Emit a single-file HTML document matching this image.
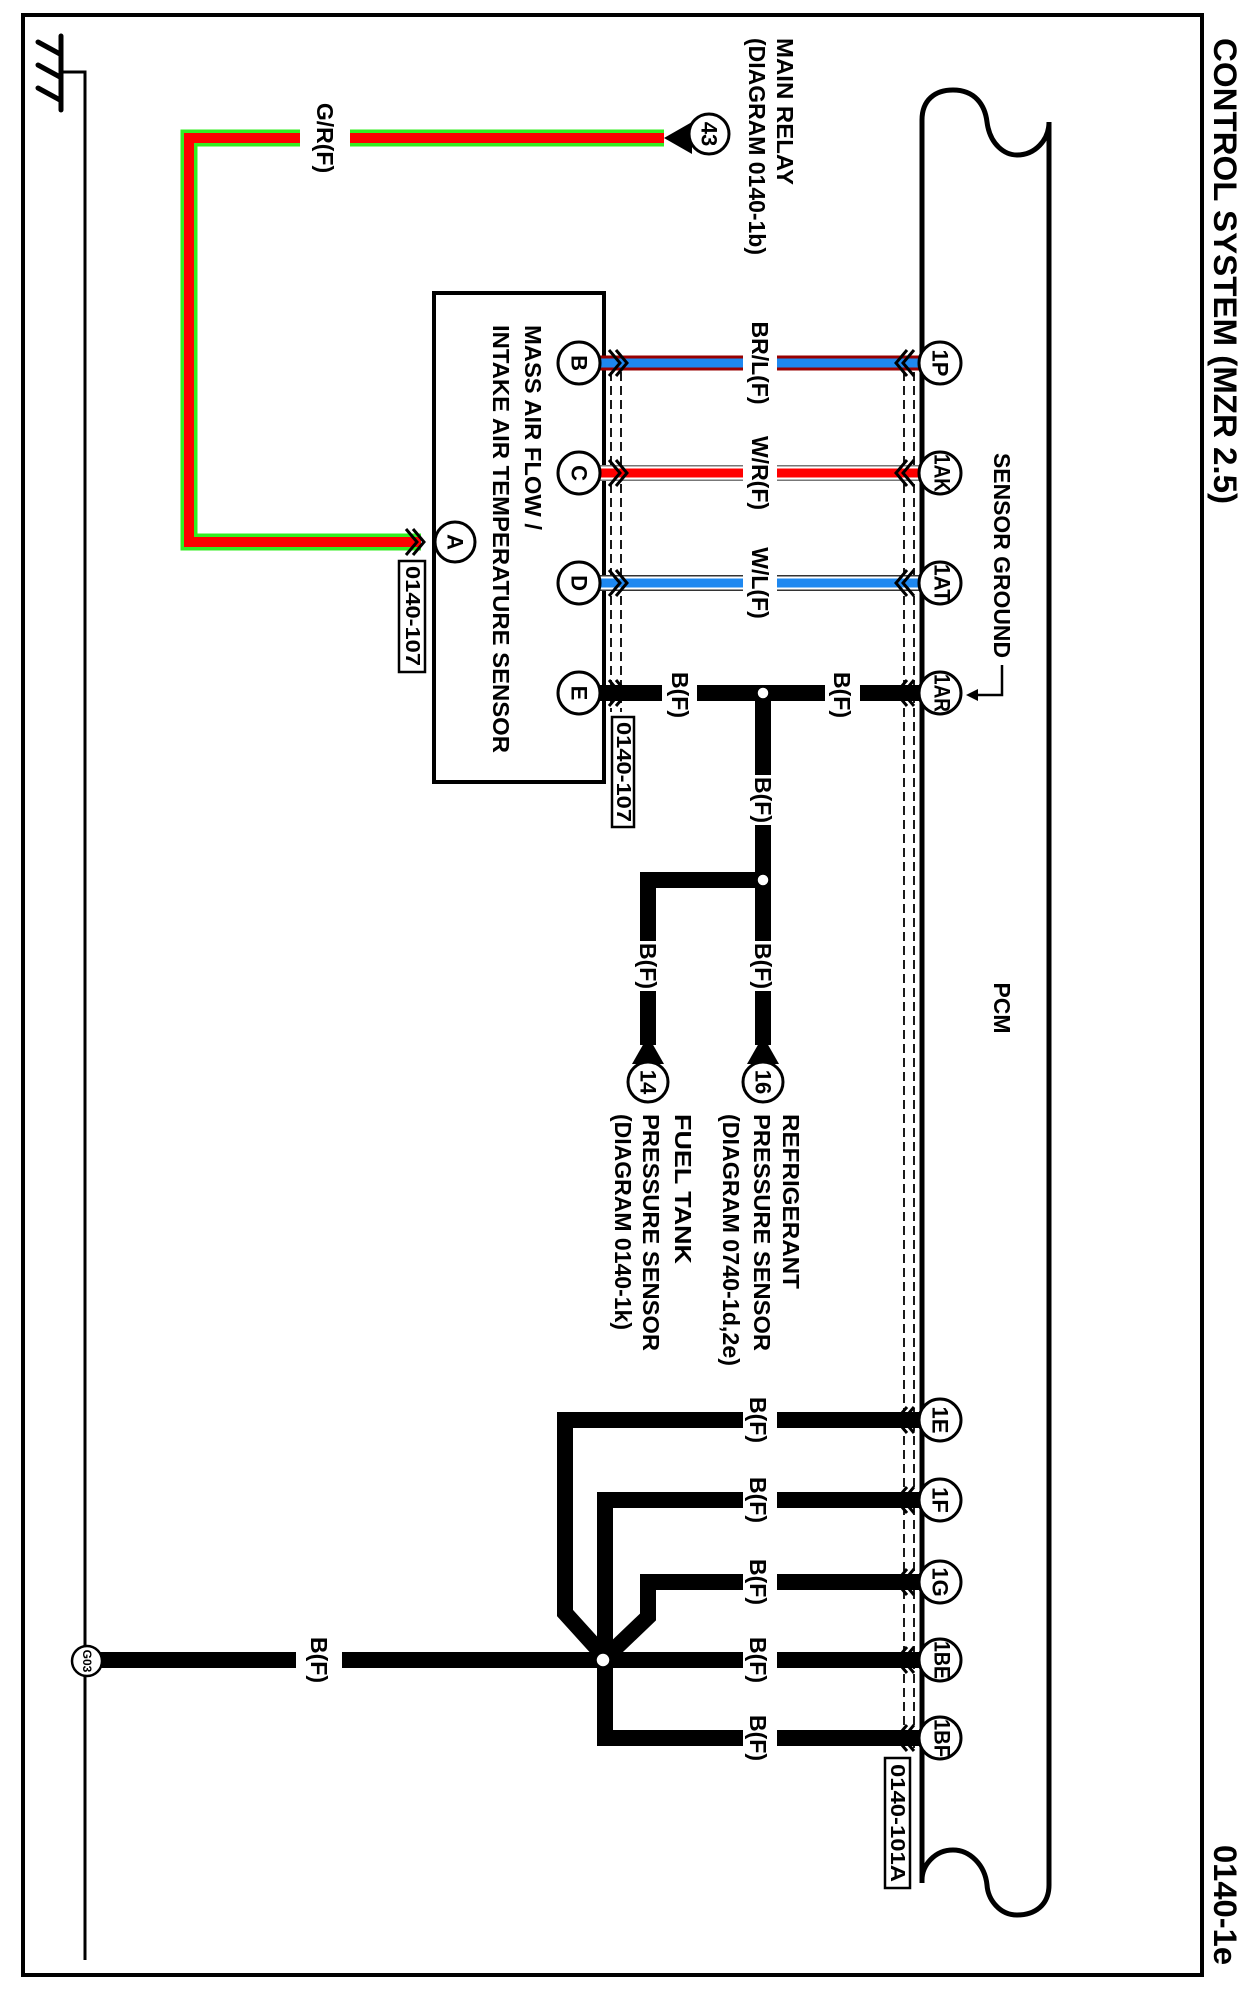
<!DOCTYPE html>
<html><head><meta charset="utf-8"><style>
html,body{margin:0;padding:0;background:#fff;}
svg{display:block;}
text{font-family:"Liberation Sans",Arial,sans-serif;fill:#000;}
.l{font-weight:bold;font-size:23px;}
.p{font-weight:bold;font-size:22px;}
</style></head><body>
<svg width="1247" height="1998" viewBox="0 0 1247 1998" xmlns="http://www.w3.org/2000/svg">
<rect x="0" y="0" width="1247" height="1998" fill="#fff"/>
<rect x="23" y="15" width="1179" height="1960" fill="none" stroke="#000" stroke-width="4"/>
<text transform="translate(1225,38) rotate(90)" dominant-baseline="central" font-size="32" font-weight="bold" textLength="466" lengthAdjust="spacingAndGlyphs">CONTROL SYSTEM (MZR 2.5)</text>
<text transform="translate(1225,1845) rotate(90)" dominant-baseline="central" font-size="32" font-weight="bold" textLength="120" lengthAdjust="spacingAndGlyphs">0140-1e</text>

<g stroke="#000" stroke-linecap="round" fill="none">
<line x1="61" y1="36" x2="61" y2="110" stroke-width="5"/>
<line x1="38" y1="42" x2="60" y2="54" stroke-width="5"/>
<line x1="38" y1="65" x2="60" y2="77" stroke-width="5"/>
<line x1="38" y1="88" x2="60" y2="100" stroke-width="5"/>
</g>
<polyline points="61,72 85,72 85,1960" fill="none" stroke="#000" stroke-width="3"/>

<g fill="none" stroke="#000" stroke-width="5">
<path d="M922,1883 L922,120 C922,100 935,90 953,90 C975,90 985,105 987,122 C990,145 1005,155 1017,155 C1035,155 1049,140 1049,122 L1049,1885 C1049,1905 1035,1915 1017,1915 C1000,1915 988,1900 987,1885 C985,1865 970,1850 953,1850 C935,1850 922,1865 922,1880"/>
</g>
<text class="l" transform="translate(1002,1008) rotate(90)" text-anchor="middle" dominant-baseline="central">PCM</text>
<text class="l" transform="translate(1002,453) rotate(90)" dominant-baseline="central" textLength="205" lengthAdjust="spacingAndGlyphs">SENSOR GROUND</text>
<polyline points="1002,665 1002,695 975,695" fill="none" stroke="#000" stroke-width="2.5"/>
<polygon points="966,695 978,689 978,701" fill="#000"/>

<rect x="434" y="293" width="170" height="489" fill="none" stroke="#000" stroke-width="4"/>
<text class="l" transform="translate(533,325) rotate(90)" dominant-baseline="central" textLength="205" lengthAdjust="spacingAndGlyphs">MASS AIR FLOW /</text>
<text class="l" transform="translate(501,325) rotate(90)" dominant-baseline="central" textLength="428" lengthAdjust="spacingAndGlyphs">INTAKE AIR TEMPERATURE SENSOR</text>

<polyline points="664,138 189,138 189,542 421,542" fill="none" stroke="#33ee22" stroke-width="17"/>
<polyline points="664,138 189,138 189,542 421,542" fill="none" stroke="#ff0000" stroke-width="10"/>
<rect x="300" y="120" width="50" height="36" fill="#fff"/>
<text class="l" transform="translate(325,138) rotate(90)" text-anchor="middle" dominant-baseline="central">G/R(F)</text>
<polygon points="664,138 692,122 692,154" fill="#000"/>
<circle cx="709" cy="134" r="20" fill="#fff" stroke="#000" stroke-width="3"/>
<text class="p" transform="translate(709,134) rotate(90)" text-anchor="middle" dominant-baseline="central">43</text>
<text class="l" transform="translate(785,38) rotate(90)" dominant-baseline="central" textLength="147" lengthAdjust="spacingAndGlyphs">MAIN RELAY</text>
<text class="l" transform="translate(757,38) rotate(90)" dominant-baseline="central" textLength="217" lengthAdjust="spacingAndGlyphs">(DIAGRAM 0140-1b)</text>
<polyline points="406,529 417,542 406,555" fill="none" stroke="#000" stroke-width="3"/>
<polyline points="413,529 424,542 413,555" fill="none" stroke="#000" stroke-width="3"/>
<circle cx="455" cy="542" r="20" fill="#fff" stroke="#000" stroke-width="3"/>
<text class="p" transform="translate(455,542) rotate(90)" text-anchor="middle" dominant-baseline="central">A</text>
<rect x="399" y="561" width="26" height="111" fill="#fff" stroke="#000" stroke-width="2.5"/>
<text transform="translate(412,616) rotate(90)" text-anchor="middle" dominant-baseline="central" font-size="20" font-weight="bold" textLength="100" lengthAdjust="spacingAndGlyphs">0140-107</text>

<g stroke="#000" stroke-width="1.8" stroke-dasharray="9,5" fill="none">
<line x1="611" y1="358" x2="611" y2="712"/>
<line x1="621" y1="358" x2="621" y2="712"/>
<line x1="904" y1="358" x2="904" y2="1748"/>
<line x1="914" y1="358" x2="914" y2="1748"/>
</g>

<g>
<line x1="600" y1="363" x2="922" y2="363" stroke="#990000" stroke-width="15"/>
<line x1="600" y1="363" x2="922" y2="363" stroke="#1e88f0" stroke-width="9"/>
<line x1="600" y1="473" x2="922" y2="473" stroke="#777" stroke-width="16"/>
<line x1="600" y1="473" x2="922" y2="473" stroke="#fff" stroke-width="13"/>
<line x1="600" y1="473" x2="922" y2="473" stroke="#ff0000" stroke-width="9"/>
<line x1="600" y1="583" x2="922" y2="583" stroke="#333" stroke-width="16"/>
<line x1="600" y1="583" x2="922" y2="583" stroke="#fff" stroke-width="13"/>
<line x1="600" y1="583" x2="922" y2="583" stroke="#1e88f0" stroke-width="9"/>
<line x1="600" y1="693" x2="922" y2="693" stroke="#000" stroke-width="16"/>
</g>
<rect x="743" y="350" width="34" height="250" fill="#fff"/>
<rect x="662" y="680" width="35" height="26" fill="#fff"/>
<rect x="825" y="680" width="35" height="26" fill="#fff"/>
<text class="l" transform="translate(760,363) rotate(90)" text-anchor="middle" dominant-baseline="central">BR/L(F)</text>
<text class="l" transform="translate(760,473) rotate(90)" text-anchor="middle" dominant-baseline="central">W/R(F)</text>
<text class="l" transform="translate(760,583) rotate(90)" text-anchor="middle" dominant-baseline="central">W/L(F)</text>
<text class="l" transform="translate(680,695) rotate(90)" text-anchor="middle" dominant-baseline="central">B(F)</text>
<text class="l" transform="translate(842,695) rotate(90)" text-anchor="middle" dominant-baseline="central">B(F)</text>

<polyline points="763,693 763,1045" fill="none" stroke="#000" stroke-width="16"/>
<polyline points="763,880 648,880 648,1045" fill="none" stroke="#000" stroke-width="16" stroke-linejoin="miter"/>
<rect x="750" y="775" width="26" height="50" fill="#fff"/>
<rect x="750" y="941" width="26" height="50" fill="#fff"/>
<rect x="635" y="941" width="26" height="50" fill="#fff"/>
<text class="l" transform="translate(763,800) rotate(90)" text-anchor="middle" dominant-baseline="central">B(F)</text>
<text class="l" transform="translate(763,966) rotate(90)" text-anchor="middle" dominant-baseline="central">B(F)</text>
<text class="l" transform="translate(648,966) rotate(90)" text-anchor="middle" dominant-baseline="central">B(F)</text>
<circle cx="763" cy="693" r="6" fill="#fff" stroke="#000" stroke-width="1.5"/>
<circle cx="763" cy="880" r="6" fill="#fff" stroke="#000" stroke-width="1.5"/>
<polygon points="763,1036 747,1064 779,1064" fill="#000"/>
<polygon points="648,1036 632,1064 664,1064" fill="#000"/>
<circle cx="763" cy="1082" r="20" fill="#fff" stroke="#000" stroke-width="3"/>
<circle cx="648" cy="1082" r="20" fill="#fff" stroke="#000" stroke-width="3"/>
<text class="p" transform="translate(763,1082) rotate(90)" text-anchor="middle" dominant-baseline="central">16</text>
<text class="p" transform="translate(648,1082) rotate(90)" text-anchor="middle" dominant-baseline="central">14</text>
<text class="l" transform="translate(791,1114) rotate(90)" dominant-baseline="central" textLength="175" lengthAdjust="spacingAndGlyphs">REFRIGERANT</text>
<text class="l" transform="translate(762,1114) rotate(90)" dominant-baseline="central" textLength="237" lengthAdjust="spacingAndGlyphs">PRESSURE SENSOR</text>
<text class="l" transform="translate(731,1114) rotate(90)" dominant-baseline="central" textLength="252" lengthAdjust="spacingAndGlyphs">(DIAGRAM 0740-1d,2e)</text>
<text class="l" transform="translate(683,1114) rotate(90)" dominant-baseline="central" textLength="150" lengthAdjust="spacingAndGlyphs">FUEL TANK</text>
<text class="l" transform="translate(651,1114) rotate(90)" dominant-baseline="central" textLength="237" lengthAdjust="spacingAndGlyphs">PRESSURE SENSOR</text>
<text class="l" transform="translate(623,1114) rotate(90)" dominant-baseline="central" textLength="216" lengthAdjust="spacingAndGlyphs">(DIAGRAM 0140-1k)</text>

<g fill="none" stroke="#000" stroke-width="16" stroke-linejoin="miter">
<polyline points="922,1420 565,1420 565,1613 603,1655"/>
<polyline points="922,1500 605,1500 605,1738 922,1738"/>
<polyline points="922,1582 648,1582 648,1617 603,1660"/>
<line x1="98" y1="1660" x2="922" y2="1660"/>
</g>
<rect x="743" y="1400" width="34" height="350" fill="#fff"/>
<rect x="296" y="1647" width="46" height="26" fill="#fff"/>
<text class="l" transform="translate(758,1420) rotate(90)" text-anchor="middle" dominant-baseline="central">B(F)</text>
<text class="l" transform="translate(758,1500) rotate(90)" text-anchor="middle" dominant-baseline="central">B(F)</text>
<text class="l" transform="translate(758,1582) rotate(90)" text-anchor="middle" dominant-baseline="central">B(F)</text>
<text class="l" transform="translate(758,1660) rotate(90)" text-anchor="middle" dominant-baseline="central">B(F)</text>
<text class="l" transform="translate(758,1738) rotate(90)" text-anchor="middle" dominant-baseline="central">B(F)</text>
<text class="l" transform="translate(319,1660) rotate(90)" text-anchor="middle" dominant-baseline="central">B(F)</text>
<circle cx="603" cy="1660" r="7" fill="#fff" stroke="#000" stroke-width="1.5"/>
<circle cx="87" cy="1661" r="15" fill="#fff" stroke="#000" stroke-width="2.5"/>
<text transform="translate(87,1661) rotate(90)" text-anchor="middle" dominant-baseline="central" font-size="12" font-weight="bold">G03</text>
<rect x="885" y="1758" width="25" height="130" fill="#fff" stroke="#000" stroke-width="2.5"/>
<text transform="translate(897,1823) rotate(90)" text-anchor="middle" dominant-baseline="central" font-size="20" font-weight="bold" textLength="118" lengthAdjust="spacingAndGlyphs">0140-101A</text>

<g fill="none" stroke="#000" stroke-width="3">
<polyline points="609,350 620,363 609,376"/><polyline points="616,350 627,363 616,376"/>
<polyline points="609,460 620,473 609,486"/><polyline points="616,460 627,473 616,486"/>
<polyline points="609,570 620,583 609,596"/><polyline points="616,570 627,583 616,596"/>
<polyline points="609,680 620,693 609,706"/><polyline points="616,680 627,693 616,706"/>
</g>
<g fill="none" stroke="#000" stroke-width="3">
<polyline points="907,350 896,363 907,376"/><polyline points="914,350 903,363 914,376"/>
<polyline points="907,460 896,473 907,486"/><polyline points="914,460 903,473 914,486"/>
<polyline points="907,570 896,583 907,596"/><polyline points="914,570 903,583 914,596"/>
<polyline points="907,680 896,693 907,706"/><polyline points="914,680 903,693 914,706"/>
<polyline points="907,1407 896,1420 907,1433"/><polyline points="914,1407 903,1420 914,1433"/>
<polyline points="907,1487 896,1500 907,1513"/><polyline points="914,1487 903,1500 914,1513"/>
<polyline points="907,1569 896,1582 907,1595"/><polyline points="914,1569 903,1582 914,1595"/>
<polyline points="907,1647 896,1660 907,1673"/><polyline points="914,1647 903,1660 914,1673"/>
<polyline points="907,1725 896,1738 907,1751"/><polyline points="914,1725 903,1738 914,1751"/>
</g>

<g fill="#fff" stroke="#000" stroke-width="3">
<circle cx="579" cy="363" r="21"/><circle cx="579" cy="473" r="21"/><circle cx="579" cy="583" r="21"/><circle cx="579" cy="693" r="21"/>
<circle cx="940" cy="363" r="21"/><circle cx="940" cy="473" r="21"/><circle cx="940" cy="583" r="21"/><circle cx="940" cy="693" r="21"/>
<circle cx="940" cy="1420" r="21"/><circle cx="940" cy="1500" r="21"/><circle cx="940" cy="1582" r="21"/><circle cx="940" cy="1660" r="21"/><circle cx="940" cy="1738" r="21"/>
</g>
<text class="p" transform="translate(579,363) rotate(90)" text-anchor="middle" dominant-baseline="central">B</text>
<text class="p" transform="translate(579,473) rotate(90)" text-anchor="middle" dominant-baseline="central">C</text>
<text class="p" transform="translate(579,583) rotate(90)" text-anchor="middle" dominant-baseline="central">D</text>
<text class="p" transform="translate(579,693) rotate(90)" text-anchor="middle" dominant-baseline="central">E</text>
<text class="p" transform="translate(940,363) rotate(90)" text-anchor="middle" dominant-baseline="central">1P</text>
<text class="p" transform="translate(942,473) rotate(90)" text-anchor="middle" dominant-baseline="central" textLength="38" lengthAdjust="spacingAndGlyphs">1AK</text>
<text class="p" transform="translate(942,583) rotate(90)" text-anchor="middle" dominant-baseline="central" textLength="38" lengthAdjust="spacingAndGlyphs">1AT</text>
<text class="p" transform="translate(942,693) rotate(90)" text-anchor="middle" dominant-baseline="central" textLength="38" lengthAdjust="spacingAndGlyphs">1AR</text>
<text class="p" transform="translate(940,1420) rotate(90)" text-anchor="middle" dominant-baseline="central">1E</text>
<text class="p" transform="translate(940,1500) rotate(90)" text-anchor="middle" dominant-baseline="central">1F</text>
<text class="p" transform="translate(940,1582) rotate(90)" text-anchor="middle" dominant-baseline="central">1G</text>
<text class="p" transform="translate(942,1660) rotate(90)" text-anchor="middle" dominant-baseline="central" textLength="38" lengthAdjust="spacingAndGlyphs">1BE</text>
<text class="p" transform="translate(942,1738) rotate(90)" text-anchor="middle" dominant-baseline="central" textLength="38" lengthAdjust="spacingAndGlyphs">1BF</text>
<rect x="612" y="717" width="22" height="110" fill="#fff" stroke="#000" stroke-width="2.5"/>
<text transform="translate(623,772) rotate(90)" text-anchor="middle" dominant-baseline="central" font-size="20" font-weight="bold" textLength="100" lengthAdjust="spacingAndGlyphs">0140-107</text>
</svg>
</body></html>
